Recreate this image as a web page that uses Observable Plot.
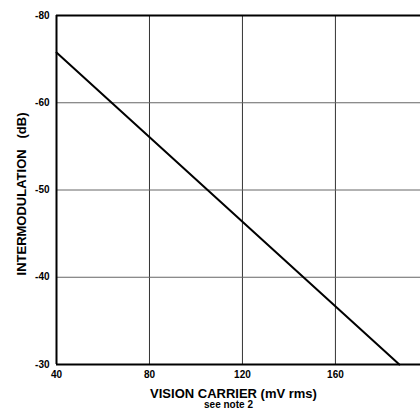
<!DOCTYPE html>
<html><head><meta charset="utf-8">
<script src="https://cdn.jsdelivr.net/npm/d3@7"></script>
<script src="https://cdn.jsdelivr.net/npm/@observablehq/plot@0.6"></script>
<style>body{margin:0;background:#fff} svg{display:block}</style>
</head><body><div id="chart"></div>
<script>
const xTicks = [40, 80, 120, 160];
const yTicks = [-80, -60, -50, -40, -30];
const xGrid = [80, 120, 160];
const yGrid = [-60, -50, -40];
const carrier = [40, 187.5];
const intermod = [-71.5, -30];
const xLabel = "VISION CARRIER (mV rms)";
const yLabel = "INTERMODULATION   (dB)";
const note = "see note 2";

const data = carrier.map((c, i) => ({carrier: c, im: intermod[i]}));

const chart = Plot.plot({
  width: 420, height: 412,
  marginTop: 15, marginLeft: 56, marginRight: 0, marginBottom: 48,
  style: {fontFamily: "'Liberation Sans', Arial, sans-serif", fontWeight: "bold", fontSize: "10px", background: "#fff", color: "#000"},
  x: {type: "linear", domain: [40, 196.6]},
  y: {type: "linear", domain: yTicks.slice().reverse()},
  marks: [
    Plot.ruleX(xGrid, {stroke: "#333", strokeWidth: 1}),
    Plot.ruleY(yGrid, {stroke: "#666", strokeWidth: 1}),
    Plot.ruleY([yTicks[0], yTicks[yTicks.length - 1]], {stroke: "#000", strokeWidth: 2}),
    Plot.ruleX([xTicks[0]], {stroke: "#000", strokeWidth: 2}),
    Plot.line(data, {x: "carrier", y: "im", stroke: "#000", strokeWidth: 2}),
    Plot.axisX(xTicks, {tickSize: 0, tickPadding: 6, tickFormat: d => String(d), label: null, letterSpacing: 1}),
    Plot.axisY(yTicks, {tickSize: 0, tickPadding: 7, tickFormat: d => String(d), label: null, letterSpacing: 1}),
    Plot.text([xLabel], {text: d => d, frameAnchor: "bottom", lineAnchor: "middle", textAnchor: "middle", dy: 29, dx: -5, fontSize: 13, fontWeight: "bold", letterSpacing: 0.4}),
    Plot.text([note], {text: d => d, frameAnchor: "bottom", lineAnchor: "middle", textAnchor: "middle", dy: 40.5, dx: -10, fontSize: 10, fontWeight: "bold"}),
    Plot.text([yLabel], {text: d => d, frameAnchor: "left", lineAnchor: "middle", textAnchor: "middle", rotate: -90, dx: -35, dy: 4, fontSize: 13, fontWeight: "bold", letterSpacing: 1.8})
  ]
});
document.getElementById("chart").append(chart);
</script>
</body></html>
